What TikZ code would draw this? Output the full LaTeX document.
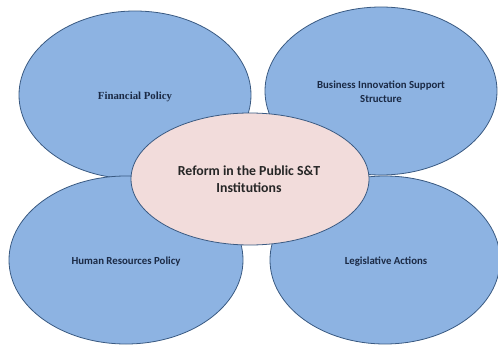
\documentclass[tikz,border=0pt]{standalone}
\usepackage{fontspec}
\setmainfont{Carlito}
\newfontfamily\timesfont{Liberation Serif}
\usetikzlibrary{shapes.geometric}
\definecolor{bluefill}{HTML}{8DB3E2}
\definecolor{bordercol}{HTML}{3A5A82}
\definecolor{pinkfill}{HTML}{F2DCDB}
\definecolor{textnavy}{HTML}{1B2A45}
\begin{document}
\begin{tikzpicture}[x=1pt,y=-1pt,
  ellbase/.style={draw=bordercol, line width=0.8pt},
  blueell/.style={ellbase, fill=bluefill},
  pinkell/.style={ellbase, fill=pinkfill},
  lbl/.style={font=\bfseries\fontsize{10.8}{14}\selectfont, text=textnavy, align=center},
  clbl/.style={font=\bfseries\fontsize{13.8}{17}\selectfont, text=black!85, align=center}]
\useasboundingbox (0,0) rectangle (498,345);
\path[blueell] (135,95) ellipse [x radius=116, y radius=84];
\path[blueell] (381,91) ellipse [x radius=116, y radius=84];
\path[blueell] (126,260) ellipse [x radius=117, y radius=84];
\path[blueell] (385,260) ellipse [x radius=115, y radius=84];
\path[pinkell] (250,179) ellipse [x radius=119, y radius=66];
\node[lbl, font=\timesfont\bfseries\fontsize{10.8}{14}\selectfont] (fin) at (135,97) {Financial Policy};
\node[lbl] (biz) at (381,92) {Business Innovation Support\\Structure};
\node[lbl] (hr) at (126,262) {Human Resources Policy};
\node[lbl] (leg) at (386,262) {Legislative Actions};
\node[clbl] (ctr) at (249,179.5) {Reform in the Public S\&T\\Institutions};
\end{tikzpicture}
\end{document}
